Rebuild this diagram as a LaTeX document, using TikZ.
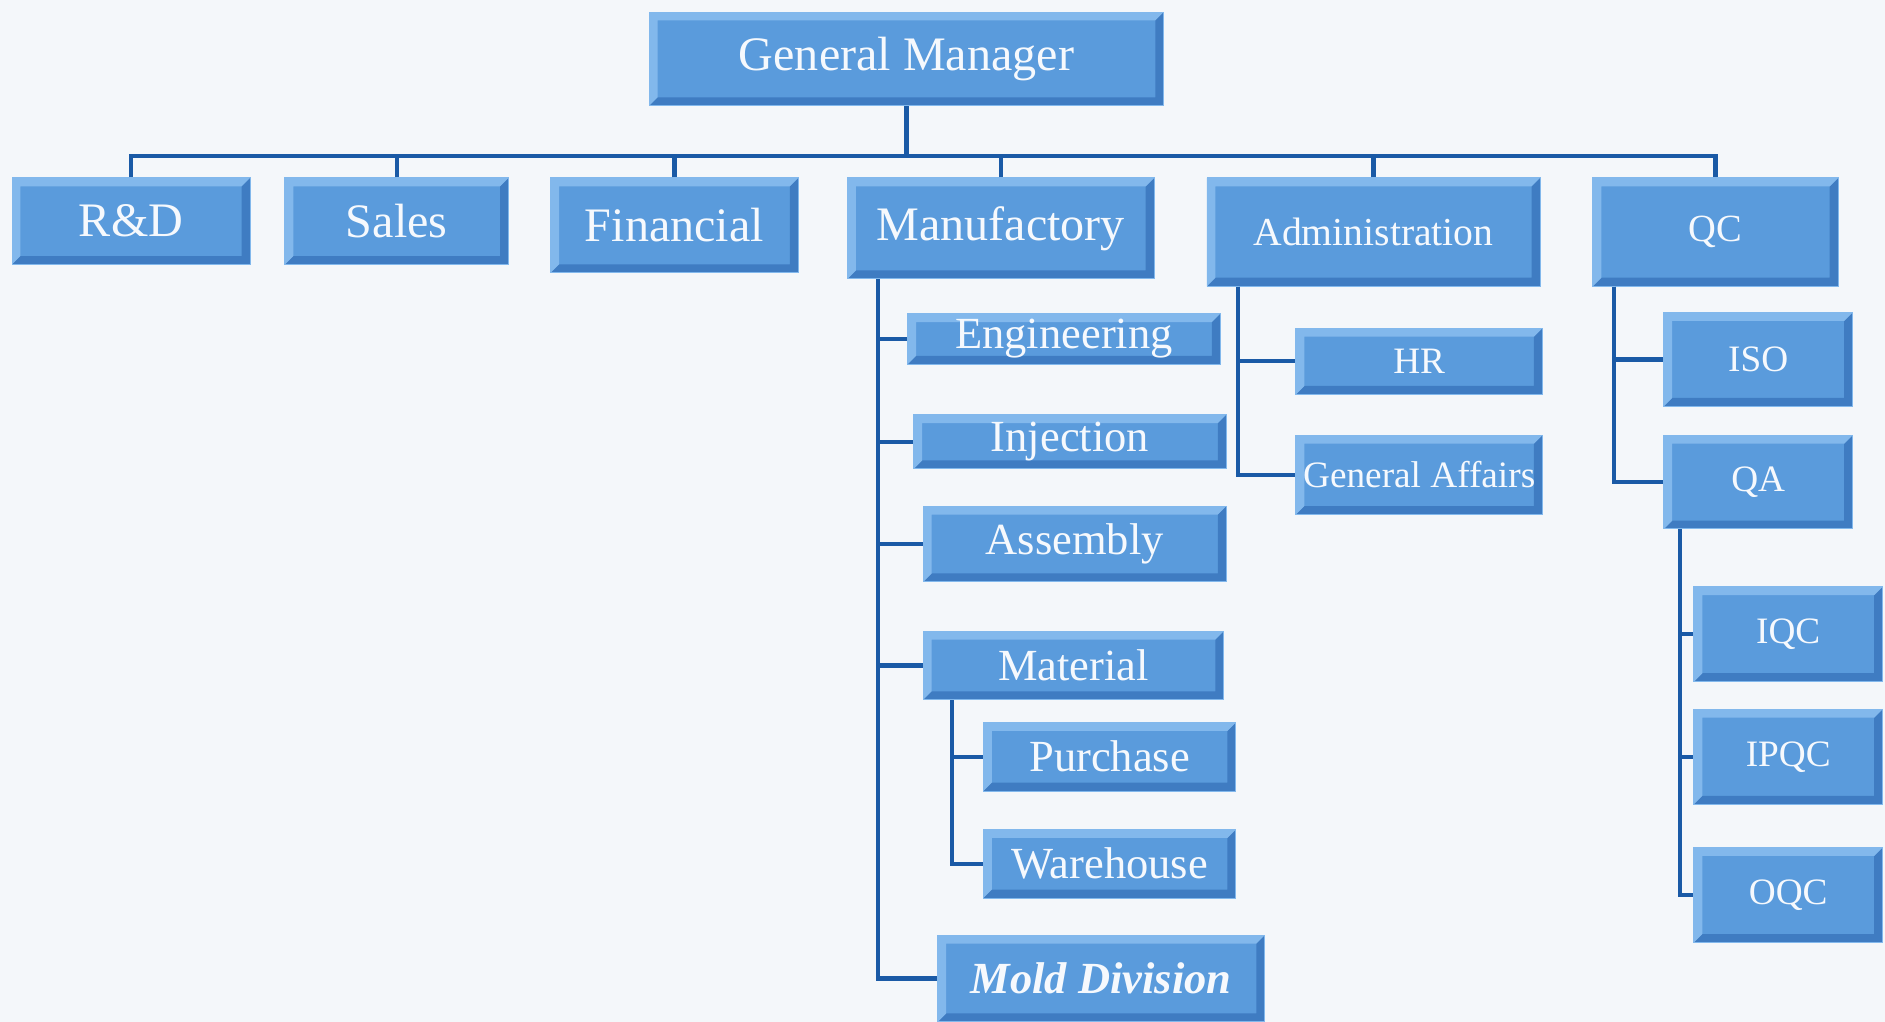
\documentclass[tikz,border=0pt]{standalone}
\usepackage{fontspec}
\setmainfont{Liberation Serif}
\definecolor{boxfill}{HTML}{5A9BDC}
\definecolor{boxlight}{HTML}{82B8EC}
\definecolor{boxdark}{HTML}{3F7CC2}
\definecolor{linkblue}{HTML}{1A5AA6}
\definecolor{paper}{HTML}{F4F7FA}
\definecolor{boxtext}{HTML}{F6F9FD}
\begin{document}
\begin{tikzpicture}[x=1pt, y=-1pt,
bevel/.style={path picture={
  \fill[boxdark] (path picture bounding box.south west) -- (path picture bounding box.south east)
    -- (path picture bounding box.north east) -- ([shift={(-7pt,-7pt)}]path picture bounding box.north east)
    -- ([shift={(-7pt,7pt)}]path picture bounding box.south east) -- ([shift={(7pt,7pt)}]path picture bounding box.south west) -- cycle;
  \fill[boxlight] (path picture bounding box.south west) -- (path picture bounding box.north west)
    -- (path picture bounding box.north east) -- ([shift={(-7pt,-7pt)}]path picture bounding box.north east)
    -- ([shift={(7pt,-7pt)}]path picture bounding box.north west) -- ([shift={(7pt,7pt)}]path picture bounding box.south west) -- cycle;
}},
orgbox/.style={fill=boxfill, draw=boxlight, line width=0.8pt, text=boxtext, inner sep=0pt, bevel},
deptbox/.style={orgbox, font=\fontsize{40}{44}\selectfont},
unitbox/.style={orgbox, font=\fontsize{37}{41}\selectfont},
sidebox/.style={orgbox, font=\fontsize{31}{35}\selectfont},
link/.style={draw=linkblue, line width=3.5pt}]
\fill[paper] (0,0) rectangle (1568,850);
\useasboundingbox (0,0) rectangle (1568,850);

\node[deptbox, minimum width=428, minimum height=78] (gm) at (754,49) {General Manager};

\node[deptbox, minimum width=198, minimum height=72] (rd) at (109,184) {R\&D};
\node[deptbox, minimum width=186, minimum height=72] (sales) at (330,184) {Sales};
\node[deptbox, minimum width=206, minimum height=79] (fin) at (561,187.5) {Financial};
\node[deptbox, minimum width=255, minimum height=84] (mf) at (832.5,190) {Manufactory};
\node[sidebox, font=\fontsize{33}{37}\selectfont, minimum width=277, minimum height=90] (adm) at (1142.5,193) {Administration};
\node[sidebox, font=\fontsize{32}{36}\selectfont, minimum width=204, minimum height=90] (qc) at (1427,193) {QC};

\node[unitbox, minimum width=260, minimum height=42] (eng) at (885,282) {Engineering};
\node[unitbox, minimum width=260, minimum height=45] (inj) at (890,367.5) {Injection};
\node[unitbox, minimum width=252, minimum height=63] (asm) at (894,452.5) {Assembly};
\node[unitbox, minimum width=250, minimum height=57] (mat) at (893,553.5) {Material};
\node[unitbox, minimum width=210, minimum height=57] (pur) at (923,629.5) {Purchase};
\node[unitbox, minimum width=210, minimum height=57] (wh) at (923,718.5) {Warehouse};
\node[unitbox, minimum width=272, minimum height=72, font=\fontsize{37}{41}\selectfont\bfseries\itshape] (mold) at (916,814) {Mold Division};

\node[sidebox, minimum width=205, minimum height=55] (hr) at (1180.5,300.5) {HR};
\node[sidebox, minimum width=205, minimum height=66] (ga) at (1180.5,395) {General Affairs};

\node[sidebox, minimum width=157, minimum height=78] (iso) at (1462.5,299) {ISO};
\node[sidebox, minimum width=157, minimum height=78] (qa) at (1462.5,401) {QA};
\node[sidebox, minimum width=157, minimum height=79] (iqc) at (1487.5,527.5) {IQC};
\node[sidebox, minimum width=157, minimum height=79] (ipqc) at (1487.5,629.5) {IPQC};
\node[sidebox, minimum width=157, minimum height=79] (oqc) at (1487.5,744.5) {OQC};

\coordinate (bus) at (754,130);
\draw[link] (gm.south) -- (bus);
\draw[link] (rd.north) -- (rd.north |- bus) -- (qc.north |- bus) -- (qc.north);
\foreach \d in {sales,fin,mf,adm}
  \draw[link] (\d.north) -- (\d.north |- bus);

\coordinate (mfl) at ([xshift=26pt]mf.south west);
\foreach \d in {eng,inj,asm,mat,mold}
  \draw[link] (mfl) |- (\d.west);
\coordinate (matl) at ([xshift=24pt]mat.south west);
\foreach \d in {pur,wh}
  \draw[link] (matl) |- (\d.west);
\coordinate (adml) at ([xshift=26pt]adm.south west);
\foreach \d in {hr,ga}
  \draw[link] (adml) |- (\d.west);
\coordinate (qcl) at ([xshift=18pt]qc.south west);
\foreach \d in {iso,qa}
  \draw[link] (qcl) |- (\d.west);
\coordinate (qal) at ([xshift=14pt]qa.south west);
\foreach \d in {iqc,ipqc,oqc}
  \draw[link] (qal) |- (\d.west);
\end{tikzpicture}
\end{document}
